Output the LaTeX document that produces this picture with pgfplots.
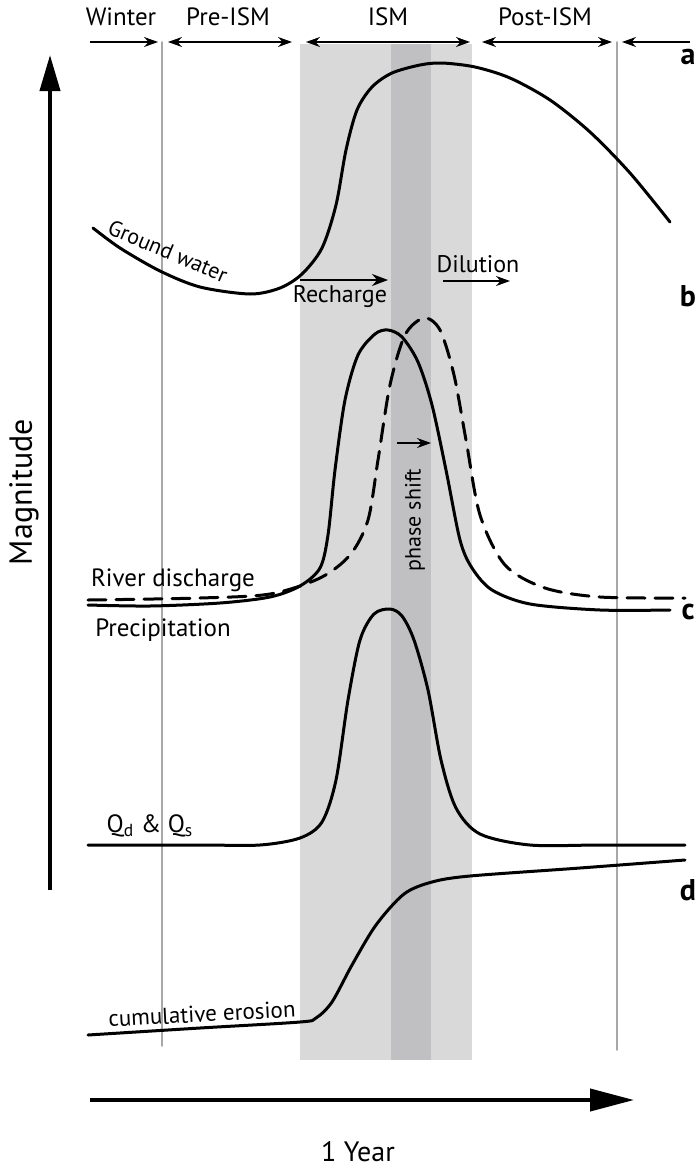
\documentclass[border=0pt]{standalone}
\usepackage{pgfplots}
\pgfplotsset{compat=1.18}
\usepackage{fontspec}
\setmainfont{PT Sans}
\usetikzlibrary{arrows.meta}

\definecolor{bandlight}{RGB}{217,217,217}
\definecolor{banddark}{RGB}{192,192,194}
\definecolor{vline}{RGB}{168,168,172}

\begin{document}
\begin{tikzpicture}
\begin{axis}[
  name=ax,
  width=348.5pt, height=586.5pt,
  scale only axis,
  xmin=0, xmax=697, ymin=0, ymax=1173,
  y dir=reverse,
  hide axis,
  clip=false,
  every axis plot/.append style={line join=round, line cap=round},
]
% season bands
\addplot[fill=bandlight, draw=none] coordinates {(300,44) (472,44) (472,1060) (300,1060)} -- cycle;
\addplot[fill=banddark, draw=none] coordinates {(391,44) (431,44) (431,1060) (391,1060)} -- cycle;
% season boundaries
\addplot[vline, line width=0.9pt] coordinates {(162,42) (162,1046)};
\addplot[vline, line width=0.9pt] coordinates {(617,42) (617,1050)};

% a: ground water
\addplot[black, line width=1.5pt, smooth, tension=0.5] coordinates {
  (93,228) (120,248) (160,271) (200,287) (250,294) (280,288) (302,274)
  (322,248) (336,205) (346,150) (357,110) (372,87) (392,73) (420,65)
  (442,63) (475,67) (510,78) (550,100) (590,132) (630,173) (670,222)};

% b: precipitation
\addplot[black, line width=1.5pt, smooth, tension=0.5] coordinates {
  (88,605) (150,606) (220,603) (270,597) (300,586) (320,568) (328,535)
  (335,470) (345,400) (358,355) (375,334) (388,330) (402,337) (418,362)
  (432,405) (446,470) (460,540) (472,568) (492,590) (530,604) (600,610) (670,610)};
% b: river discharge
\addplot[black, line width=1.5pt, dash pattern=on 9pt off 5pt, smooth, tension=0.5] coordinates {
  (88,600) (200,598) (270,594) (320,578) (350,555) (368,520) (378,460)
  (390,385) (405,335) (424,318) (440,330) (454,375) (466,440) (480,515)
  (505,565) (545,588) (600,597) (685,598)};

% c: Qd & Qs
\addplot[black, line width=1.5pt, smooth, tension=0.5] coordinates {
  (88,845) (200,845) (260,845) (300,838) (322,822) (336,780) (348,700)
  (360,640) (374,614) (390,609) (402,616) (414,640) (428,690) (441,760)
  (456,808) (480,834) (530,845) (600,845) (685,845)};

% d: cumulative erosion
\addplot[black, line width=1.5pt, smooth, tension=0.5] coordinates {
  (88,1035) (200,1028) (300,1022) (316,1018) (332,1002) (352,965)
  (376,925) (404,894) (432,882) (470,876) (580,868) (685,860)};

% season arrows
\draw[-{Stealth[length=7pt,width=5pt]}, line width=0.6pt] (axis cs:90,42) -- (axis cs:158,42);
\draw[{Stealth[length=7pt,width=5pt]}-{Stealth[length=7pt,width=5pt]}, line width=0.6pt] (axis cs:168,42) -- (axis cs:292,42);
\draw[{Stealth[length=7pt,width=5pt]}-{Stealth[length=7pt,width=5pt]}, line width=0.8pt] (axis cs:306,42) -- (axis cs:470,42);
\draw[{Stealth[length=7pt,width=5pt]}-{Stealth[length=7pt,width=5pt]}, line width=0.6pt] (axis cs:482,42) -- (axis cs:612,42);
\draw[-{Stealth[length=7pt,width=5pt]}, line width=0.6pt] (axis cs:690,42) -- (axis cs:622,42);
\node[font=\fontsize{12.5}{14}\selectfont] at (axis cs:121,17) {Winter};
\node[font=\fontsize{12.5}{14}\selectfont] at (axis cs:228,17) {Pre-ISM};
\node[font=\fontsize{12.5}{14}\selectfont] at (axis cs:388,17) {ISM};
\node[font=\fontsize{12.5}{14}\selectfont] at (axis cs:545,17) {Post-ISM};

% axes arrows
\draw[-{Triangle[length=18pt,width=10pt]}, line width=2pt] (axis cs:50,890) -- (axis cs:50,55);
\draw[-{Triangle[length=22pt,width=11pt]}, line width=2pt] (axis cs:90,1100) -- (axis cs:634,1100);
\node[rotate=90, font=\fontsize{16}{18}\selectfont] at (axis cs:24,492) {Magnitude};
\node[font=\fontsize{14}{16}\selectfont] at (axis cs:358,1152) {1 Year};

% panel letters
\node[font=\fontsize{15}{17}\selectfont\bfseries] at (axis cs:688,57) {a};
\node[font=\fontsize{15}{17}\selectfont\bfseries] at (axis cs:688,296) {b};
\node[font=\fontsize{15}{17}\selectfont\bfseries] at (axis cs:688,612) {c};
\node[font=\fontsize{15}{17}\selectfont\bfseries] at (axis cs:688,890) {d};

% annotations
\node[rotate=-23, font=\fontsize{11}{13}\selectfont] at (axis cs:168,251) {Ground water};
\draw[-{Stealth[length=8pt,width=6pt]}, line width=1pt] (axis cs:300,280) -- (axis cs:388,280);
\node[font=\fontsize{12}{14}\selectfont] at (axis cs:340,297) {Recharge};
\draw[-{Stealth[length=7pt,width=5pt]}, line width=0.7pt] (axis cs:443,281) -- (axis cs:510,281);
\node[font=\fontsize{12}{14}\selectfont] at (axis cs:478,264) {Dilution};
\draw[-{Stealth[length=7pt,width=5pt]}, line width=0.7pt] (axis cs:397,443) -- (axis cs:431,443);
\node[rotate=90, font=\fontsize{11}{13}\selectfont] at (axis cs:415,520) {phase shift};
\node[font=\fontsize{12.5}{14}\selectfont] at (axis cs:173,580) {River discharge};
\node[font=\fontsize{12.5}{14}\selectfont] at (axis cs:163,630) {Precipitation};
\node[font=\fontsize{12.5}{14}\selectfont] at (axis cs:150,826) {Q$_\mathrm{d}$ \& Q$_\mathrm{s}$};
\node[rotate=3, font=\fontsize{11.5}{13}\selectfont] at (axis cs:202,1014) {cumulative erosion};
\end{axis}
\pgfresetboundingbox
\path (ax.south west) rectangle (ax.north east);
\end{tikzpicture}
\end{document}
